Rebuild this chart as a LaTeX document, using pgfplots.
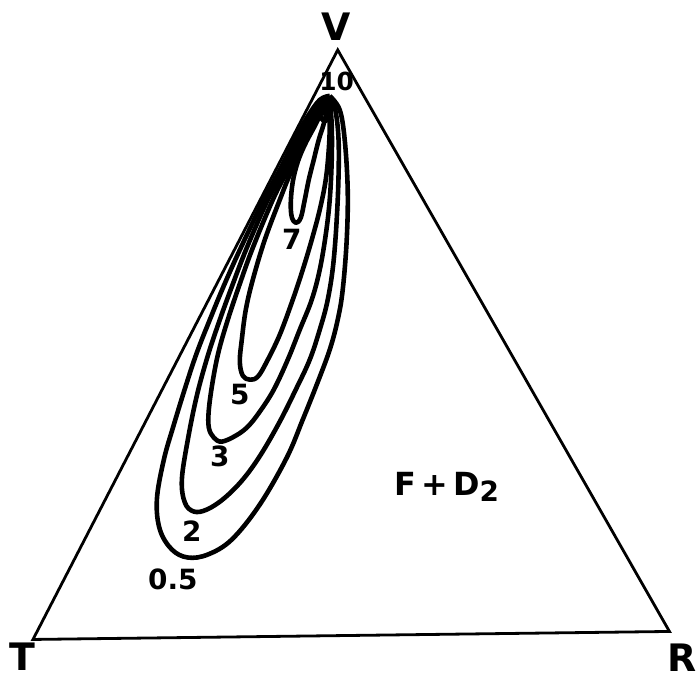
\documentclass[border=0pt]{standalone}
\usepackage{pgfplots}
\pgfplotsset{compat=1.18}
\usepackage{fontspec}
\setmainfont{DejaVu Sans}
\tikzset{
  contour/.style={black, line width=2.3bp, smooth, tension=0.6, mark=none, line join=round},
  lab/.style={font=\fontsize{14}{14}\selectfont\bfseries, inner sep=0pt, anchor=center},
  vlab/.style={font=\fontsize{19}{19}\selectfont\bfseries, inner sep=0pt, anchor=center},
}
\begin{document}
\begin{tikzpicture}
\begin{axis}[
  scale only axis, width=348.5bp, height=340bp,
  xmin=0, xmax=697, ymin=0, ymax=680, y dir=reverse,
  hide axis, clip=false,
]
% frame to fix the bounding box
\addplot[draw=none, mark=none] coordinates {(0,0) (697,680)};
% composition triangle T-V-R
\addplot[black, line width=1.4bp, mark=none, line join=miter] coordinates {(33,640) (338,50) (670,632) (33,640) (338,50)};
% contour 0.5
\addplot[contour] coordinates {(330,96) (320,100) (307,118) (295,140) (280,170) (264,200) (241,248) (224,286) (210,320) (197,353) (186,386) (174,425) (164,460) (157,500) (160,530) (172,550) (188,558) (208,555) (232,540) (260,505) (287,458) (303,420) (317,385) (330,350) (338,320) (343,290) (347,240) (348,190) (345,140) (340,110) (330,96)};
% contour 2
\addplot[contour] coordinates {(331,98) (321,103) (310,120) (298,142) (284,170) (268,200) (247,248) (232,287) (220,320) (208,356) (197,396) (188,440) (182,480) (185,503) (194,512) (207,510) (224,499) (243,480) (261,455) (280,422) (296,390) (310,360) (320,330) (328,300) (334,260) (338,200) (339,145) (336,112) (331,98)};
% contour 3
\addplot[contour] coordinates {(330,100) (321,106) (311,123) (301,143) (288,170) (273,200) (253,248) (239,287) (228,320) (219,351) (213,381) (209,410) (209,428) (214,438) (222,442) (236,436) (248,427) (260,412) (274,390) (288,360) (300,330) (312,300) (320,270) (326,235) (330,200) (332,160) (332,125) (330,100)};
% contour 5
\addplot[contour] coordinates {(329,104) (321,110) (313,125) (302,150) (290,175) (280,200) (265,240) (253,280) (246,310) (242,340) (240,362) (243,376) (250,380) (258,377) (267,362) (280,335) (293,300) (303,270) (312,240) (320,210) (326,180) (329,150) (330,125) (329,104)};
% contour 7
\addplot[contour] coordinates {(328,107) (322,113) (314,128) (305,145) (298,162) (293,182) (291,203) (292,217) (296,223) (301,218) (305,200) (309,180) (314,160) (319,140) (324,124) (328,107)};
% contour 10
\addplot[contour] coordinates {(326,104) (321,110) (321,118) (326,121) (330,116) (330,108) (326,104)};
% vertex labels
\node[vlab] at (axis cs:336,27) {V};
\node[vlab] at (axis cs:22,657) {T};
\node[vlab] at (axis cs:683,658) {R};
% contour labels
\node[lab, font=\fontsize{12.5}{12.5}\selectfont\bfseries] at (axis cs:337,82) {10};
\node[lab] at (axis cs:292,240) {7};
\node[lab] at (axis cs:240,395) {5};
\node[lab] at (axis cs:220,457) {3};
\node[lab] at (axis cs:192,532) {2};
\node[lab] at (axis cs:173,580) {0.5};
\node[lab, font=\fontsize{16}{16}\selectfont\bfseries] at (axis cs:447,487) {F\,+\,D\raisebox{-0.35ex}{\fontsize{14}{14}\selectfont 2}};
\end{axis}
\end{tikzpicture}
\end{document}
